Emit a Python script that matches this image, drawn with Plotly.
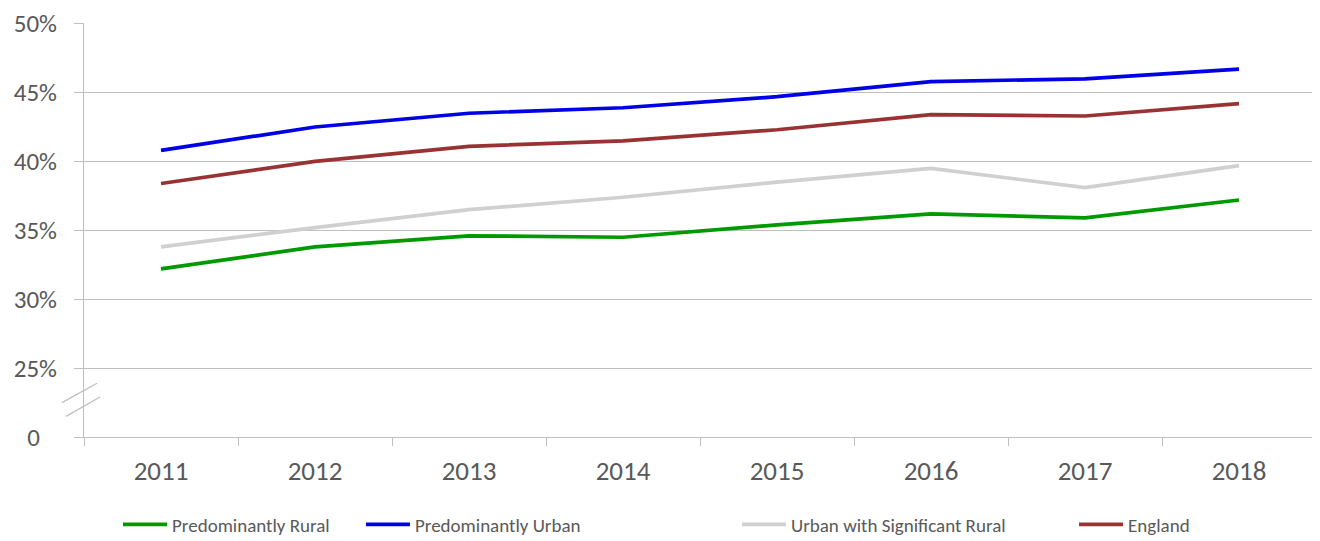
import plotly.graph_objects as go

years = ["2011", "2012", "2013", "2014", "2015", "2016", "2017", "2018"]
rural = [32.2, 33.8, 34.6, 34.5, 35.4, 36.2, 35.9, 37.2]
urban = [40.8, 42.5, 43.5, 43.9, 44.7, 45.8, 46.0, 46.7]
urban_sig_rural = [33.8, 35.2, 36.5, 37.4, 38.5, 39.5, 38.1, 39.7]
england = [38.4, 40.0, 41.1, 41.5, 42.3, 43.4, 43.3, 44.2]

series_names = ["Predominantly Rural", "Predominantly Urban", "Urban with Significant Rural", "England"]
series_values = [rural, urban, urban_sig_rural, england]
series_colors = ["#009A00", "#0000E6", "#D0D0D0", "#993333"]

y_tickvals = [20, 25, 30, 35, 40, 45, 50]
y_ticktext = ["0&nbsp;&nbsp;&nbsp;", "25%", "30%", "35%", "40%", "45%", "50%"]

FONT = "Carlito, Calibri, 'Open Sans', sans-serif"
TEXT = "#595959"
GRID = "#BFBFBF"

legend_ids = ["legend", "legend2", "legend3", "legend4"]
legend_x = [0.0276, 0.2248, 0.530, 0.8036]

fig = go.Figure()
for name, vals, col, lid in zip(series_names, series_values, series_colors, legend_ids):
    fig.add_trace(go.Scatter(x=years, y=vals, name=name, mode="lines",
                             line=dict(color=col, width=3.7), legend=lid))

# axis break marks
for (x0, y0, x1, y1) in [(-0.0179, 22.5, 0.0106, 23.9), (-0.0146, 21.5, 0.013, 22.9)]:
    fig.add_shape(type="line", xref="paper", yref="y", x0=x0, y0=y0, x1=x1, y1=y1,
                  line=dict(color=GRID, width=1.3))

legend_common = dict(orientation="h", y=-0.2115, yanchor="middle", xanchor="left",
                     font=dict(family=FONT, size=19, color=TEXT), itemwidth=44,
                     bgcolor="rgba(0,0,0,0)", borderwidth=0)
legends = {lid: dict(x=lx, **legend_common) for lid, lx in zip(legend_ids, legend_x)}

fig.update_layout(
    width=1320, height=541,
    margin=dict(l=76, r=12, t=15, b=112, autoexpand=False),
    paper_bgcolor="white", plot_bgcolor="white",
    font=dict(family=FONT, size=20, color=TEXT),
    showlegend=True,
    xaxis=dict(type="category", tickson="boundaries", ticks="outside", ticklen=8,
               tickcolor=GRID, showline=True, linecolor=GRID, linewidth=1,
               showgrid=False, tickfont=dict(size=27, color=TEXT),
               range=[-0.5, 7.5], automargin=False, ticklabelstandoff=10),
    yaxis=dict(range=[20, 50.05], tickvals=y_tickvals, ticktext=y_ticktext,
               showgrid=True, gridcolor=GRID, gridwidth=1, zeroline=False,
               showline=True, linecolor=GRID, linewidth=1,
               ticks="outside", ticklen=9, tickcolor=GRID, automargin=False,
               ticklabeloverflow="allow",
               ticklabelstandoff=12, tickfont=dict(size=25, color=TEXT)),
    **legends,
)

fig.write_html("out.html")
